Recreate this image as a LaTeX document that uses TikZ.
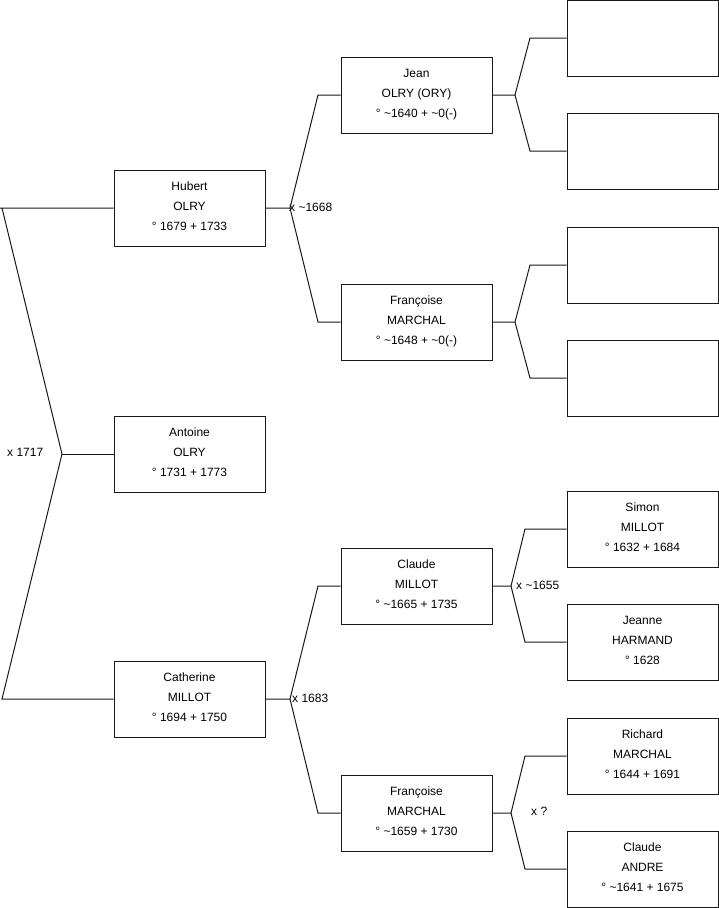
\documentclass[tikz,border=0pt]{standalone}
\usepackage{fontspec}
\setmainfont{Liberation Sans}
\newcommand{\lastdp}{\rule[-4pt]{0pt}{4pt}}
\begin{document}
\begin{tikzpicture}[x=1pt,y=-1pt,
  person/.style={draw=black!90,line width=1pt,rectangle,minimum width=151pt,minimum height=76pt,
    inner sep=0pt,align=center,font=\fontsize{12}{20}\selectfont,fill=white},
  link/.style={draw=black!90,line width=1pt},
  mlabel/.style={anchor=west,inner sep=0pt,font=\fontsize{12}{14}\selectfont}]
\useasboundingbox[fill=white] (0,0) rectangle (719,908);
% generation 1
\node[person] (ant) at (189.5,454) {Antoine\\OLRY\\° 1731 + 1773\lastdp};
% generation 2
\node[person] (hub) at (189.5,208) {Hubert\\OLRY\\° 1679 + 1733\lastdp};
\node[person] (cat) at (189.5,699) {Catherine\\MILLOT\\° 1694 + 1750\lastdp};
% generation 3
\node[person] (jean) at (416.5,95) {Jean\\OLRY (ORY)\\° \textasciitilde1640 + \textasciitilde0(-)\lastdp};
\node[person] (fra1) at (416.5,322) {Françoise\\MARCHAL\\° \textasciitilde1648 + \textasciitilde0(-)\lastdp};
\node[person] (cla1) at (416.5,586) {Claude\\MILLOT\\° \textasciitilde1665 + 1735\lastdp};
\node[person] (fra2) at (416.5,813) {Françoise\\MARCHAL\\° \textasciitilde1659 + 1730\lastdp};
% generation 4
\node[person] (e1) at (642.5,38) {};
\node[person] (e2) at (642.5,151) {};
\node[person] (e3) at (642.5,265) {};
\node[person] (e4) at (642.5,378) {};
\node[person] (sim) at (642.5,529) {Simon\\MILLOT\\° 1632 + 1684\lastdp};
\node[person] (jea) at (642.5,642) {Jeanne\\HARMAND\\° 1628\lastdp};
\node[person] (ric) at (642.5,756) {Richard\\MARCHAL\\° 1644 + 1691\lastdp};
\node[person] (cla2) at (642.5,869) {Claude\\ANDRE\\° \textasciitilde1641 + 1675\lastdp};
% junction coordinates
\coordinate (jL) at (62,454);
\coordinate (tL) at (2,208);
\coordinate (bL) at (2,699);
\coordinate (jH) at (290,208);
\coordinate (jC) at (290,699);
\coordinate (jJ) at (515,95);
\coordinate (jF1) at (515,322);
\coordinate (jC1) at (511,586);
\coordinate (jF2) at (511,813);
% connectors
\draw[link] (hub.west) -- (0,208) (tL) -- (jL) -- (bL) -- (cat.west);
\draw[link] (jL) -- (ant.west);
\draw[link] (hub.east) -- (jH) -- (318,95) -- (jean.west);
\draw[link] (jH) -- (318,322) -- (fra1.west);
\draw[link] (cat.east) -- (jC) -- (318,586) -- (cla1.west);
\draw[link] (jC) -- (318,813) -- (fra2.west);
\draw[link] (jean.east) -- (jJ) -- (530,38) -- (e1.west);
\draw[link] (jJ) -- (530,151) -- (e2.west);
\draw[link] (fra1.east) -- (jF1) -- (530,265) -- (e3.west);
\draw[link] (jF1) -- (530,378) -- (e4.west);
\draw[link] (cla1.east) -- (jC1) -- (525,529) -- (sim.west);
\draw[link] (jC1) -- (525,642) -- (jea.west);
\draw[link] (fra2.east) -- (jF2) -- (525,756) -- (ric.west);
\draw[link] (jF2) -- (525,869) -- (cla2.west);
% marriage labels
\node[mlabel] (m1) at (7,452) {x 1717};
\node[mlabel] (m2) at (289,207) {x \textasciitilde1668};
\node[mlabel] (m3) at (292,698) {x 1683};
\node[mlabel] (m4) at (516,585) {x \textasciitilde1655};
\node[mlabel] (m5) at (531,811) {x ?};
\end{tikzpicture}
\end{document}
